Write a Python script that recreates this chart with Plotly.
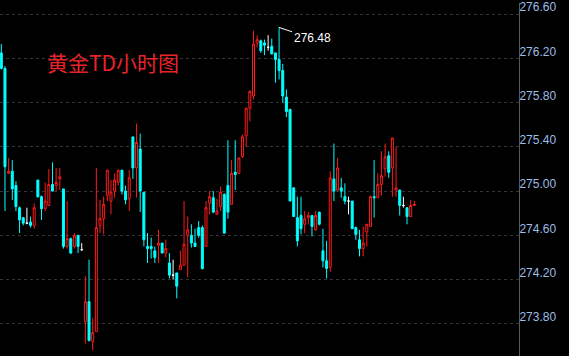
import plotly.graph_objects as go

# Hourly candles (黄金TD), left to right
opens = [276.25, 276.11, 275.16, 275.18, 275.05, 274.85, 274.76, 274.71, 274.72, 274.69,
         275.10, 274.95, 274.84, 274.87, 275.06, 275.05, 275.11, 275.02, 274.50, 274.57,
         274.50, 274.60, 274.47, 273.82, 274.00, 273.64, 273.73, 274.69, 274.75, 274.96,
         274.91, 275.00, 275.08, 275.19, 275.00, 274.93, 275.49, 275.21, 275.38, 274.99,
         274.50, 274.50, 274.46, 274.51, 274.53, 274.44, 274.35, 274.24, 274.26, 274.29,
         274.33, 274.60, 274.60, 274.53, 274.67, 274.67, 274.50, 274.89, 274.94, 274.79,
         274.86, 274.97, 275.05, 274.88, 275.17, 275.16, 275.31, 275.50, 275.75, 275.86,
         276.34, 276.36, 276.34, 276.30, 276.31, 276.25, 276.19, 276.09, 275.85, 275.74,
         275.03, 274.76, 274.78, 274.70, 274.76, 274.78, 274.65, 274.81, 274.46, 274.37,
         274.31, 275.11, 275.01, 275.03, 274.95, 274.91, 274.91, 274.67, 274.56, 274.48,
         274.63, 274.68, 274.95, 274.94, 275.06, 275.20, 275.32, 275.21, 275.01, 275.01,
         274.87, 274.85, 274.77, 274.87]
highs = [276.33, 276.13, 275.30, 275.28, 275.09, 274.86, 274.76, 274.85, 274.77, 274.89,
         275.10, 274.96, 275.08, 275.20, 275.26, 275.21, 275.21, 275.02, 274.91, 274.58,
         274.62, 274.60, 274.53, 274.23, 274.38, 273.85, 275.21, 274.92, 274.95, 275.19,
         275.10, 275.16, 275.19, 275.19, 275.05, 275.19, 275.49, 275.61, 275.52, 274.99,
         274.62, 274.58, 274.50, 274.65, 274.53, 274.56, 274.44, 274.38, 274.26, 274.46,
         274.91, 274.77, 274.70, 274.66, 274.73, 274.69, 274.91, 275.00, 275.00, 274.93,
         275.04, 274.98, 275.46, 275.28, 275.46, 275.30, 275.51, 275.75, 275.91, 276.45,
         276.41, 276.37, 276.37, 276.41, 276.38, 276.25, 276.48, 276.15, 275.92, 275.74,
         275.03, 274.95, 274.95, 274.82, 274.81, 274.78, 274.82, 274.81, 274.66, 274.55,
         275.18, 275.43, 275.30, 275.12, 275.07, 274.95, 274.91, 274.68, 274.65, 274.68,
         274.70, 274.96, 275.28, 275.16, 275.36, 275.43, 275.36, 275.48, 275.40, 275.01,
         274.95, 274.85, 274.92, 274.91]
lows = [276.10, 274.82, 275.16, 274.92, 274.82, 274.62, 274.69, 274.70, 274.67, 274.66,
        274.94, 274.74, 274.82, 274.87, 275.00, 275.00, 275.01, 274.48, 274.48, 274.43,
        274.48, 274.44, 274.46, 273.62, 273.64, 273.56, 273.73, 274.62, 274.61, 274.91,
        274.79, 274.94, 275.05, 274.97, 274.88, 274.82, 275.11, 274.94, 274.81, 274.50,
        274.35, 274.39, 274.35, 274.35, 274.44, 274.40, 274.21, 274.20, 274.03, 274.29,
        274.33, 274.22, 274.49, 274.50, 274.58, 274.29, 274.50, 274.79, 274.80, 274.79,
        274.82, 274.62, 274.75, 274.88, 275.01, 275.16, 275.30, 275.40, 275.63, 275.83,
        276.30, 276.25, 276.23, 276.27, 276.24, 275.98, 276.01, 275.80, 275.67, 274.91,
        274.77, 274.50, 274.61, 274.62, 274.70, 274.59, 274.64, 274.69, 274.31, 274.21,
        274.27, 274.91, 275.00, 274.94, 274.88, 274.79, 274.66, 274.56, 274.41, 274.41,
        274.50, 274.68, 274.76, 274.94, 274.96, 275.13, 275.12, 274.95, 274.95, 274.78,
        274.85, 274.70, 274.77, 274.87]
closes = [276.11, 275.22, 275.18, 275.02, 274.86, 274.74, 274.71, 274.71, 274.69, 274.85,
          274.95, 274.84, 274.91, 275.06, 275.00, 275.08, 275.13, 274.50, 274.57, 274.44,
          274.60, 274.50, 274.47, 274.00, 273.65, 273.72, 274.67, 274.75, 274.88, 275.19,
          274.99, 275.10, 275.19, 275.00, 274.92, 275.12, 275.21, 275.44, 275.00, 274.56,
          274.48, 274.48, 274.40, 274.53, 274.44, 274.48, 274.24, 274.24, 274.14, 274.33,
          274.52, 274.65, 274.53, 274.50, 274.60, 274.30, 274.85, 274.95, 274.81, 274.82,
          274.99, 274.62, 274.81, 275.16, 275.15, 275.30, 275.49, 275.75, 275.90, 276.33,
          276.37, 276.27, 276.32, 276.30, 276.24, 276.19, 276.09, 275.86, 275.72, 274.91,
          274.77, 274.55, 274.66, 274.75, 274.78, 274.68, 274.78, 274.70, 274.37, 274.30,
          275.12, 275.00, 275.21, 275.00, 274.91, 274.91, 274.66, 274.61, 274.48, 274.53,
          274.70, 274.95, 274.94, 275.06, 275.14, 275.31, 275.17, 275.48, 275.03, 274.87,
          274.87, 274.77, 274.87, 274.88]

tick_vals = [273.80, 274.20, 274.60, 275.00, 275.40, 275.80, 276.20, 276.60]
tick_text = ["273.80", "274.20", "274.60", "275.00", "275.40", "275.80", "276.20", "276.60"]
title_text = "黄金TD小时图"

idx = list(range(len(opens)))
body = [i for i in idx if opens[i] != closes[i]]
doji = [i for i in idx if opens[i] == closes[i]]

RED = "#ff1a1a"
CYAN = "#00ffff"

fig = go.Figure()
fig.add_trace(go.Candlestick(
    x=body,
    open=[opens[i] for i in body], high=[highs[i] for i in body],
    low=[lows[i] for i in body], close=[closes[i] for i in body],
    increasing=dict(line=dict(color=RED, width=1), fillcolor="#000000"),
    decreasing=dict(line=dict(color=CYAN, width=1), fillcolor=CYAN),
    whiskerwidth=0, showlegend=False, hoverinfo="skip",
))
fig.add_trace(go.Candlestick(
    x=doji,
    open=[opens[i] for i in doji], high=[highs[i] for i in doji],
    low=[lows[i] for i in doji], close=[closes[i] for i in doji],
    increasing=dict(line=dict(color="#ffffff", width=1), fillcolor="#ffffff"),
    decreasing=dict(line=dict(color="#ffffff", width=1), fillcolor="#ffffff"),
    whiskerwidth=0, showlegend=False, hoverinfo="skip",
))

imax = max(idx, key=lambda i: highs[i])
fig.add_annotation(
    x=imax, y=highs[imax], xref="x", yref="y",
    text=f"{highs[imax]:.2f}", showarrow=True, arrowhead=0, arrowwidth=1,
    arrowcolor="#ffffff", ax=33, ay=11, standoff=0,
    font=dict(family="Liberation Sans, Arial, sans-serif", size=12, color="#ffffff"),
)
fig.add_annotation(
    x=0.086, y=0.834, xref="paper", yref="paper", xanchor="left", yanchor="middle",
    text=title_text, showarrow=False,
    font=dict(family="Noto Sans CJK SC, sans-serif", size=21, color="#e8232a"),
)

fig.update_layout(
    width=569, height=356,
    margin=dict(l=0, r=50, t=0, b=0),
    paper_bgcolor="#000000", plot_bgcolor="#000000",
    boxgap=0.3, boxgroupgap=0.22,
    hovermode=False,
    xaxis=dict(visible=False, range=[-0.36, 141.64], rangeslider=dict(visible=False), fixedrange=True),
    yaxis=dict(
        side="right", range=[273.509, 276.701],
        tickvals=tick_vals, ticktext=tick_text,
        showgrid=True, gridcolor="#34343a", griddash="dot", gridwidth=1,
        zeroline=False, showline=True, linecolor="#5a5a5a", linewidth=1,
        ticks="", ticklabelposition="outside", ticklabelshift=-7,
        ticklabelstandoff=-3, ticklabeloverflow="allow",
        tickfont=dict(family="Liberation Sans, Arial, sans-serif", size=12, color="#9dbde6"),
        fixedrange=True,
    ),
)

fig.write_html("out.html")
